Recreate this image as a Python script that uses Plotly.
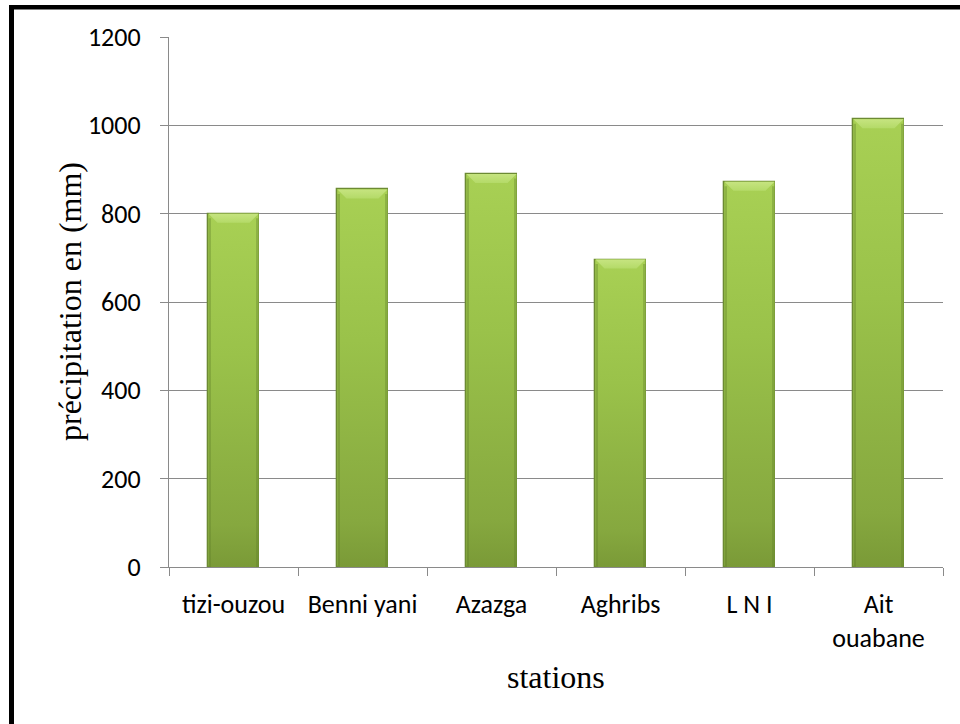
import plotly.graph_objects as go

# Annual precipitation per station (mm)
stations = ["tizi-ouzou", "Benni yani", "Azazga", "Aghribs", "L N I", "Ait<br>ouabane"]
precip_mm = [800, 855, 890, 696, 872, 1014]
y_ticks = [0, 200, 400, 600, 800, 1000, 1200]

W, H = 960, 724
ML, MR, MT, MB = 169, 17, 37, 157
PW, PH = W - ML - MR, H - MT - MB
Y_MAX = 1200
BAR_W = 0.4

idx = list(range(len(stations)))


def px_x(p):
    return (p - ML) / PW


def px_y(p):
    return (H - MB - p) / PH


# pixel sizes converted to data units for the bevel details
unit_x = 1 / (PW / len(stations))
unit_y = Y_MAX / PH
inset = 0.8 * unit_x
bev_dx = 9 * unit_x
bev_dy = 9 * unit_y

fig = go.Figure()

fig.add_trace(go.Bar(
    x=idx, y=precip_mm, width=BAR_W,
    marker=dict(color="#93ba47", line=dict(color="#6c8a33", width=1.3)),
    hovertemplate="%{y} mm<extra></extra>",
))

hw = BAR_W / 2
for i, v in zip(idx, precip_mm):
    x0, x1 = i - hw + inset, i + hw - inset
    # body with vertical shading
    fig.add_trace(go.Scatter(
        x=[x0, x1, x1, x0, x0], y=[0, 0, v, v, 0],
        mode="lines", line=dict(width=0), fill="toself",
        fillgradient=dict(type="vertical",
                          colorscale=[[0, "#7a9a37"], [0.12, "#86a83f"],
                                      [0.6, "#9ac24a"], [1, "#a8d054"]]),
        hoverinfo="skip", showlegend=False,
    ))
    # darker side edges
    for xa, xb in ((x0, x0 + 2.5 * unit_x), (x1 - 2.5 * unit_x, x1)):
        fig.add_trace(go.Scatter(
            x=[xa, xb, xb, xa, xa], y=[0, 0, v - bev_dy * 0.5, v - bev_dy * 0.5, 0],
            mode="lines", line=dict(width=0), fill="toself",
            fillcolor="rgba(95,125,40,0.35)",
            hoverinfo="skip", showlegend=False,
        ))
    # top bevel
    fig.add_trace(go.Scatter(
        x=[x0, x1, x1 - bev_dx, x0 + bev_dx, x0],
        y=[v, v, v - bev_dy, v - bev_dy, v],
        mode="lines", line=dict(width=0), fill="toself",
        fillgradient=dict(type="vertical",
                          colorscale=[[0, "#b4da68"], [1, "#c6e480"]]),
        hoverinfo="skip", showlegend=False,
    ))

grid_col = "#8a8a8a"
tick_font = dict(family="Carlito, Calibri, Lato, sans-serif", size=26, color="black")
title_font = dict(family="Liberation Serif, Times New Roman, serif", size=32, color="black")

fig.update_layout(
    width=W, height=H,
    margin=dict(l=ML, r=MR, t=MT, b=MB),
    paper_bgcolor="white", plot_bgcolor="white",
    showlegend=False,
    bargap=0,
    xaxis=dict(
        range=[-0.5, len(stations) - 0.5],
        tickmode="array", tickvals=idx, ticktext=stations,
        ticks="", tickfont=tick_font, ticklabelstandoff=14,
        showline=True, linecolor=grid_col, linewidth=1.3,
        showgrid=False, zeroline=False,
        minor=dict(tickmode="array",
                   tickvals=[k - 0.5 for k in range(len(stations) + 1)],
                   ticks="outside", ticklen=8, tickwidth=1.3,
                   tickcolor=grid_col, showgrid=False),
        fixedrange=True,
    ),
    yaxis=dict(
        range=[0, Y_MAX],
        tickmode="array", tickvals=y_ticks,
        ticks="outside", ticklen=8, tickwidth=1.3, tickcolor=grid_col,
        tickfont=tick_font, ticklabelstandoff=14,
        showline=True, linecolor=grid_col, linewidth=1.3,
        showgrid=True, gridcolor=grid_col, gridwidth=1.3,
        zeroline=False, fixedrange=True,
    ),
    annotations=[
        dict(text="précipitation en (mm)", xref="paper", yref="paper",
             x=px_x(70), y=px_y(302), xanchor="center", yanchor="middle",
             textangle=-90, showarrow=False, font=title_font),
        dict(text="stations", xref="paper", yref="paper",
             x=px_x(556), y=px_y(677), xanchor="center", yanchor="middle",
             showarrow=False, font=title_font),
    ],
    shapes=[
        dict(type="rect", xref="paper", yref="paper", layer="above",
             x0=px_x(9), x1=px_x(14), y0=px_y(H + 5), y1=px_y(5),
             fillcolor="black", line=dict(width=0)),
        dict(type="rect", xref="paper", yref="paper", layer="above",
             x0=px_x(9), x1=px_x(W + 5), y0=px_y(9.5), y1=px_y(5),
             fillcolor="black", line=dict(width=0)),
    ],
)

fig.write_html("out.html")
